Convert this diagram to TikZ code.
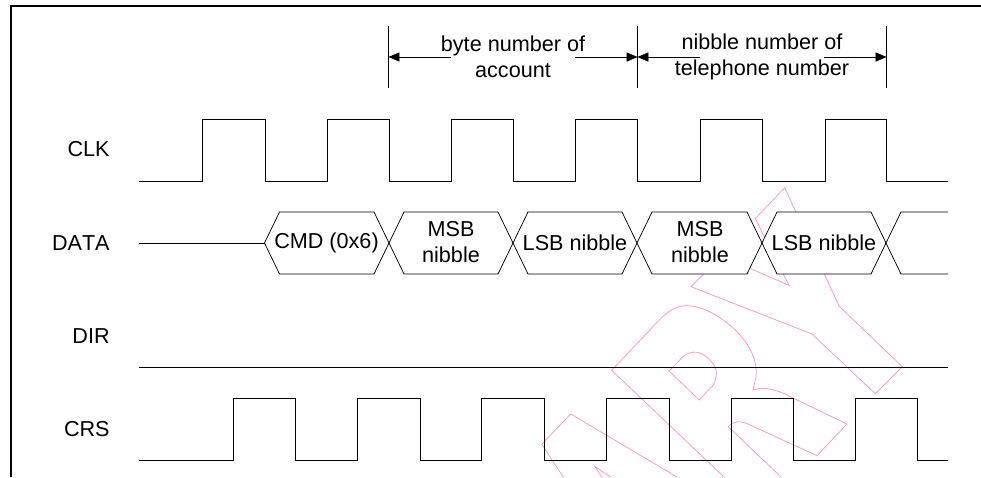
\documentclass[tikz,border=0pt]{standalone}
\usepackage{fontspec}
\setmainfont[Kerning=Off]{Liberation Sans}
\usetikzlibrary{arrows.meta}
\definecolor{P}{RGB}{255, 153, 204}
\tikzset{
	wave/.style={line width=0.42pt, line join=miter},
	mark line/.style={color=P, line width=0.45pt},
	frame line/.style={line width=1.5pt},
	dim/.style={line width=0.42pt, -{Triangle[length=6.2pt,width=5.2pt]}},
	txt/.style={inner sep=0pt, align=center, font=\fontsize{12.3}{14.7}\selectfont},
	lbl/.style={txt, anchor=east}
}

\begin{document}
\begin{tikzpicture}[x=0.02cm, y=-0.02cm]
	\useasboundingbox (0,0) rectangle (981,477);

	%Marco
	\draw[frame line] (11,477) -- (11,6) -- (981,6);

	%Marca de agua, va primero para que quede debajo
	\draw[mark line] (784.7,187.7) -- (839,306) -- (902.3,366.7) -- (875.3,393.7) -- (812,334) -- (691,286.7) -- (721.7,256) -- (789,285.3) -- (755.3,218.7) -- cycle;
	\draw[mark line] (724,477) -- (611.7,370.3) -- (660,319.3) .. controls (672,307) and (680,305.7) .. (688,305.7) .. controls (712,305.7) and (760,340) .. (756,376.7) -- (753,390) .. controls (765,386) and (778,390) .. (793,398) -- (847,424) -- (817,455.7) -- (750,425) .. controls (740,420) and (733,421) .. (728.3,426.7) -- (781,477);
	\draw[mark line] (669,371) -- (683,356.7) .. controls (690,351) and (696,351) .. (702,354) .. controls (712,360) and (718,368) .. (716,377) .. controls (715,384) and (712,387) .. (710,388.3) -- (699.3,400) -- cycle;
	\draw[mark line] (563.3,477) -- (541.7,444.3) -- (570.7,414) -- (677,477);
	\draw[mark line] (610.7,477) -- (595,466.7) -- (601.7,477);

	%Cotas de arriba
	\foreach \n/\x in {t0/388.5, t1/637.5, t2/886.5} {
		\coordinate (\n a) at (\x,26);
		\coordinate (\n b) at (\x,88);
		\draw[wave] (\n a) -- (\n b);
	}
	\coordinate (a0) at (451,57);
	\coordinate (b0) at (388.5,57);
	\coordinate (c0) at (575,57);
	\coordinate (d0) at (637.5,57);
	\coordinate (a1) at (700,57);
	\coordinate (b1) at (637.5,57);
	\coordinate (c1) at (824,57);
	\coordinate (d1) at (886.5,57);
	\draw[dim] (a0) -- (b0);
	\draw[dim] (c0) -- (d0);
	\draw[dim] (a1) -- (b1);
	\draw[dim] (c1) -- (d1);
	\node[txt] (byte) at (513,57) {byte number of\\account};
	\node[txt] (tel) at (762,57) {nibble number of\\telephone number};

	%Senal CLK
	\node[lbl] (clk) at (110,149) {CLK};
	\draw[wave] (139,181) \foreach \a/\b in {202/265, 327/389, 451/513.5, 575/637.5, 700/762, 825/886.5} {
		-- (\a,181) -- (\a,119) -- (\b,119) -- (\b,181)
	} -- (948,181);

	%Senal DATA
	\node[lbl] (data) at (110,243) {DATA};
	\draw[wave] (139,243) -- (264.5,243);
	\foreach \a/\b in {264.5/389, 389/513, 513/637, 637/762, 762/886} {
		\draw[wave, fill=white] (\a,243) -- (\a+15,212) -- (\b-15,212) -- (\b,243) -- (\b-15,274) -- (\a+15,274) -- cycle;
	}
	%El ultimo queda abierto
	\draw[wave, fill=white] (948,212) -- (901,212) -- (886,243) -- (901,274) -- (948,274);
	\node[txt] (cmd) at (326.5,243) {CMD (0x6)};
	\node[txt] (msb0) at (451,242) {MSB\\nibble};
	\node[txt] (lsb0) at (575,243) {LSB nibble};
	\node[txt] (msb1) at (700,242) {MSB\\nibble};
	\node[txt] (lsb1) at (824,243) {LSB nibble};

	%Senal DIR
	\node[lbl] (dir) at (110,336) {DIR};
	\draw[wave] (139,367) -- (948,367);

	%Senal CRS
	\node[lbl] (crs) at (110,429) {CRS};
	\draw[wave] (139,460) \foreach \a/\b in {233/295, 357/420, 481/544, 606.5/669, 731/793, 855.5/917.5} {
		-- (\a,460) -- (\a,398) -- (\b,398) -- (\b,460)
	} -- (948,460);
\end{tikzpicture}
\end{document}
